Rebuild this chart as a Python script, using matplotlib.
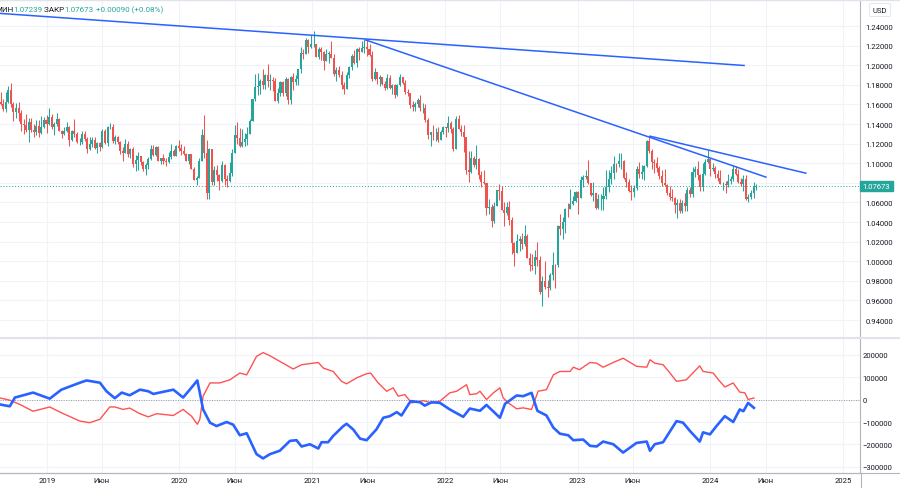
import matplotlib
matplotlib.use("Agg")
import matplotlib.pyplot as plt
import matplotlib.dates as mdates
import matplotlib.ticker as mticker
import pandas as pd
from matplotlib.lines import Line2D

plt.rcParams['font.family'] = ['Roboto', 'DejaVu Sans']

# weekly EUR/USD closes, first week starts Monday 2018-08-20
first_open = 1.1440
closes_2018 = [1.1622, 1.1601, 1.1552, 1.1625, 1.1749, 1.1604, 1.1524, 1.1560, 1.1511, 1.1402,
               1.1388, 1.1336, 1.1416, 1.1339, 1.1318, 1.1380, 1.1305, 1.1372, 1.1441]
closes_2019 = [1.1396, 1.1468, 1.1365, 1.1405, 1.1456, 1.1324, 1.1295, 1.1333, 1.1365, 1.1235,
               1.1327, 1.1302, 1.1217, 1.1217, 1.1300, 1.1246, 1.1149, 1.1198, 1.1235, 1.1157,
               1.1205, 1.1170, 1.1333, 1.1208, 1.1369, 1.1370, 1.1226, 1.1270, 1.1220, 1.1126,
               1.1108, 1.1200, 1.1091, 1.1143, 1.0990, 1.1029, 1.1073, 1.1017, 1.0940, 1.0980,
               1.1041, 1.1144, 1.1080, 1.1167, 1.1018, 1.1051, 1.1020, 1.1017, 1.1059, 1.1121,
               1.1079, 1.1176]
closes_2020 = [1.1158, 1.1120, 1.1091, 1.1025, 1.1093, 1.0945, 1.0831, 1.0846, 1.1026, 1.1284,
               1.1106, 1.0695, 1.1141, 1.0804, 1.0935, 1.0875, 1.0822, 1.0980, 1.0839, 1.0820,
               1.0902, 1.1100, 1.1290, 1.1255, 1.1177, 1.1220, 1.1247, 1.1300, 1.1428, 1.1656,
               1.1778, 1.1789, 1.1841, 1.1795, 1.1903, 1.1838, 1.1845, 1.1838, 1.1631, 1.1716,
               1.1825, 1.1718, 1.1860, 1.1647, 1.1875, 1.1833, 1.1856, 1.1962, 1.2122, 1.2110,
               1.2255, 1.2187]
closes_2021 = [1.2215, 1.2220, 1.2080, 1.2170, 1.2137, 1.2045, 1.2118, 1.2118, 1.2074, 1.1915,
               1.1955, 1.1904, 1.1795, 1.1762, 1.1900, 1.1985, 1.2095, 1.2020, 1.2164, 1.2140,
               1.2180, 1.2190, 1.2167, 1.2107, 1.1862, 1.1936, 1.1864, 1.1876, 1.1808, 1.1770,
               1.1870, 1.1763, 1.1795, 1.1697, 1.1795, 1.1880, 1.1814, 1.1725, 1.1720, 1.1595,
               1.1570, 1.1600, 1.1645, 1.1560, 1.1567, 1.1445, 1.1290, 1.1318, 1.1315, 1.1315,
               1.1240, 1.1320, 1.1370]
closes_2022 = [1.1360, 1.1414, 1.1345, 1.1145, 1.1450, 1.1350, 1.1320, 1.1270, 1.0930, 1.0910,
               1.1050, 1.0985, 1.1045, 1.0875, 1.0810, 1.0795, 1.0545, 1.0550, 1.0410, 1.0565,
               1.0730, 1.0720, 1.0520, 1.0495, 1.0555, 1.0425, 1.0185, 1.0080, 1.0210, 1.0225,
               1.0180, 1.0260, 1.0035, 0.9965, 0.9955, 1.0040, 1.0015, 0.9690, 0.9800, 0.9740,
               0.9725, 0.9860, 0.9965, 0.9960, 1.0355, 1.0325, 1.0400, 1.0535, 1.0530, 1.0585,
               1.0615, 1.0705]
closes_2023 = [1.0645, 1.0830, 1.0855, 1.0870, 1.0795, 1.0680, 1.0695, 1.0545, 1.0635, 1.0640,
               1.0670, 1.0760, 1.0840, 1.0905, 1.0995, 1.0990, 1.1020, 1.1020, 1.0850, 1.0805,
               1.0720, 1.0710, 1.0750, 1.0940, 1.0895, 1.0910, 1.0970, 1.1230, 1.1125, 1.1015,
               1.1005, 1.0950, 1.0870, 1.0795, 1.0775, 1.0700, 1.0660, 1.0650, 1.0575, 1.0590,
               1.0510, 1.0595, 1.0565, 1.0730, 1.0685, 1.0915, 1.0940, 1.0885, 1.0760, 1.0895,
               1.1015, 1.1040]
closes_2024 = [1.0940, 1.0950, 1.0895, 1.0850, 1.0785, 1.0785, 1.0775, 1.0820, 1.0840, 1.0940,
               1.0890, 1.0810, 1.0790, 1.0835, 1.0640, 1.0655, 1.0695, 1.0758, 1.07673]

# wick lengths above / below the body, in units of 0.001
hi_2018 = [0, 11, 5, 10, 4, 7, 2, 5, 6, 3, 5, 11, 5, 5, 6, 6, 6, 11, 3]
lo_2018 = [5, 1, 2, 3, 1, 3, 9, 6, 8, 7, 9, 2, 12, 2, 5, 3, 4, 1, 1]
hi_2019 = [5, 10, 3, 2, 6, 1, 2, 4, 6, 1, 1, 12, 2, 4, 3, 3, 2, 7, 3, 3, 1, 1, 2, 2, 1, 4,
           3, 2, 1, 1, 4, 5, 3, 1, 2, 6, 4, 0, 1, 2, 2, 4, 4, 1, 1, 0, 4, 3, 6, 8, 2, 1]
lo_2019 = [9, 1, 2, 8, 2, 0, 4, 1, 1, 6, 1, 3, 1, 3, 2, 2, 4, 1, 3, 1, 5, 5, 1, 1, 3, 2,
           2, 3, 2, 3, 8, 0, 3, 4, 3, 7, 10, 3, 2, 6, 4, 1, 1, 1, 0, 3, 3, 4, 1, 2, 1, 1]
hi_2020 = [6, 4, 6, 1, 0, 0, 2, 2, 3, 7, 21, 13, 1, 0, 4, 5, 2, 4, 1, 4, 11, 5, 10, 13, 10, 13,
           6, 7, 2, 0, 13, 13, 2, 12, 1, 11, 7, 4, 3, 5, 1, 1, 2, 1, 2, 5, 4, 0, 6, 4, 2, 1]
lo_2020 = [3, 4, 1, 0, 3, 0, 0, 5, 0, 0, 5, 6, 6, 3, 3, 6, 10, 1, 6, 6, 1, 3, 0, 6, 1, 1,
           4, 6, 0, 0, 2, 8, 8, 4, 4, 6, 9, 10, 0, 2, 3, 3, 3, 4, 4, 9, 3, 6, 4, 5, 0, 6]
hi_2021 = [9, 13, 0, 2, 2, 1, 5, 3, 13, 4, 3, 4, 4, 3, 3, 1, 2, 6, 1, 2, 7, 8, 7, 5, 4, 4, 0,
           2, 0, 3, 4, 3, 1, 1, 1, 3, 0, 4, 3, 0, 4, 2, 2, 5, 5, 4, 2, 0, 7, 4, 5, 2, 1]
lo_2021 = [1, 3, 0, 2, 8, 9, 0, 9, 0, 2, 8, 2, 4, 6, 0, 3, 3, 1, 4, 9, 0, 5, 7, 1, 2, 1, 6,
           8, 1, 2, 1, 1, 6, 3, 1, 1, 1, 2, 3, 3, 4, 4, 3, 3, 5, 2, 4, 11, 8, 9, 2, 0, 2]
hi_2022 = [0, 7, 2, 2, 3, 4, 4, 7, 0, 19, 8, 2, 14, 1, 5, 12, 0, 9, 3, 4, 0, 6, 5, 8, 5, 6,
           3, 1, 7, 3, 6, 11, 2, 5, 11, 7, 16, 4, 5, 20, 7, 2, 13, 1, 1, 13, 5, 1, 6, 15, 5, 1]
lo_2022 = [9, 4, 4, 2, 0, 0, 4, 16, 4, 10, 1, 2, 4, 4, 5, 1, 7, 6, 6, 2, 0, 9, 0, 14, 2, 6,
           11, 13, 0, 11, 5, 2, 0, 6, 4, 9, 6, 2, 15, 2, 9, 2, 5, 23, 2, 6, 10, 11, 8, 0, 1, 1]
hi_2023 = [1, 4, 3, 6, 16, 0, 11, 0, 5, 5, 9, 17, 9, 7, 8, 1, 8, 8, 1, 6, 3, 6, 3, 3, 7, 7,
           1, 1, 5, 2, 3, 6, 2, 6, 15, 1, 7, 8, 1, 5, 5, 3, 10, 3, 3, 5, 3, 8, 1, 11, 3, 10]
lo_2023 = [16, 0, 7, 2, 1, 1, 7, 1, 1, 11, 12, 3, 5, 5, 7, 8, 3, 8, 1, 5, 1, 8, 5, 2, 5, 6,
           8, 1, 2, 7, 10, 4, 3, 3, 1, 2, 3, 4, 8, 13, 2, 2, 5, 5, 3, 3, 6, 6, 4, 4, 2, 1]
hi_2024 = [1, 5, 2, 4, 8, 2, 3, 7, 3, 4, 3, 5, 4, 4, 5, 3, 3, 5, 2]
lo_2024 = [7, 2, 5, 3, 0, 6, 8, 2, 3, 2, 1, 1, 2, 7, 2, 4, 2, 5, 3]

last_price = 1.07673

# trend lines (start date, end date), (start price, end price)
trend_dates = [("2018-08-10", "2024-04-05"), ("2021-05-26", "2024-06-04"), ("2023-07-17", "2024-09-22")]
trend_prices = [(1.2533, 1.1997), (1.2260, 1.0856), (1.1278, 1.0897)]

# COT net positions (lower panel)
red_dates = ["2018-08-25", "2018-09-21", "2018-10-19", "2018-11-24", "2019-01-09", "2019-02-06",
             "2019-04-02", "2019-04-29", "2019-05-27", "2019-06-23", "2019-07-07", "2019-07-30",
             "2019-08-17", "2019-09-14", "2019-10-07", "2019-10-30", "2019-12-15", "2020-01-11",
             "2020-02-03", "2020-02-19", "2020-02-26", "2020-03-06", "2020-03-25", "2020-04-21",
             "2020-05-19", "2020-06-15", "2020-07-04", "2020-07-31", "2020-08-18", "2020-09-06",
             "2020-10-03", "2020-11-09", "2020-12-02", "2021-01-03", "2021-01-17", "2021-01-31",
             "2021-02-27", "2021-03-22", "2021-04-05", "2021-05-02", "2021-05-30", "2021-06-10",
             "2021-07-01", "2021-07-24", "2021-08-11", "2021-08-25", "2021-09-12", "2021-10-01",
             "2021-11-02", "2021-11-25", "2021-12-18", "2022-01-14", "2022-02-02", "2022-03-01",
             "2022-03-10", "2022-03-29", "2022-04-07", "2022-04-25", "2022-05-14", "2022-06-01",
             "2022-06-10", "2022-06-24", "2022-07-17", "2022-08-04", "2022-08-27", "2022-09-14",
             "2022-10-07", "2022-10-26", "2022-11-13", "2022-12-11", "2022-12-20", "2023-01-06",
             "2023-02-04", "2023-02-22", "2023-03-12", "2023-04-09", "2023-05-06", "2023-06-12",
             "2023-07-10", "2023-07-19", "2023-08-01", "2023-08-24", "2023-09-12", "2023-09-30",
             "2023-10-27", "2023-12-03", "2023-12-12", "2024-01-09", "2024-01-27", "2024-02-10",
             "2024-03-04", "2024-03-22", "2024-04-05", "2024-04-14", "2024-04-30"]
red_values = [7000, -3000, -22000, -52000, -33000, -56000, -96000, -103000, -88000, -33000,
              -33000, -44000, -38000, -63000, -77000, -63000, -71000, -44000, -74000, -110000,
              -88000, 15000, 74000, 74000, 88000, 118000, 110000, 192000, 209000, 195000,
              170000, 136000, 155000, 162000, 165000, 140000, 125000, 81000, 70000, 96000,
              115000, 118000, 74000, 37000, 52000, 15000, 22000, -15000, -5000, -15000,
              -7000, 30000, 37000, 66000, 22000, 26000, 37000, 0, 30000, 52000,
              7000, -15000, -41000, -37000, -44000, 37000, 44000, 110000, 125000, 125000,
              144000, 133000, 165000, 162000, 144000, 165000, 184000, 148000, 144000, 177000,
              162000, 155000, 118000, 81000, 88000, 150000, 125000, 118000, 81000, 56000,
              74000, 33000, 30000, 0, 7000]
blue_dates = ["2018-08-25", "2018-09-21", "2018-10-05", "2018-10-19", "2018-11-24", "2019-01-09",
              "2019-02-10", "2019-04-02", "2019-04-20", "2019-05-27", "2019-06-14", "2019-07-07",
              "2019-07-26", "2019-08-17", "2019-09-14", "2019-10-07", "2019-10-21", "2019-12-15",
              "2020-01-11", "2020-02-03", "2020-02-19", "2020-02-26", "2020-03-06", "2020-03-25",
              "2020-04-12", "2020-05-10", "2020-05-28", "2020-06-15", "2020-07-04", "2020-07-31",
              "2020-08-18", "2020-09-06", "2020-10-03", "2020-10-31", "2020-11-18", "2020-12-02",
              "2020-12-25", "2021-01-17", "2021-01-26", "2021-02-13", "2021-02-27", "2021-03-27",
              "2021-04-05", "2021-04-23", "2021-05-12", "2021-05-30", "2021-06-26", "2021-07-15",
              "2021-08-02", "2021-08-21", "2021-09-03", "2021-09-17", "2021-09-28", "2021-10-24",
              "2021-11-06", "2021-11-25", "2021-12-18", "2022-01-14", "2022-02-20", "2022-03-10",
              "2022-04-07", "2022-04-25", "2022-06-01", "2022-06-15", "2022-07-17", "2022-08-04",
              "2022-08-27", "2022-09-12", "2022-10-07", "2022-10-26", "2022-11-13", "2022-12-06",
              "2022-12-20", "2023-01-16", "2023-02-04", "2023-02-22", "2023-03-12", "2023-04-09",
              "2023-05-06", "2023-06-12", "2023-07-10", "2023-07-19", "2023-08-01", "2023-08-24",
              "2023-09-30", "2023-10-18", "2023-11-06", "2023-12-03", "2023-12-12", "2023-12-31",
              "2024-01-18", "2024-02-10", "2024-03-04", "2024-03-22", "2024-04-01", "2024-04-14",
              "2024-04-30"]
blue_values = [-22000, -30000, 9000, 15000, 31000, 4000, 44000, 75000, 85000, 75000,
               37000, 6000, 31000, 19000, 44000, 37000, 25000, 44000, 9000, 53000,
               85000, 30000, -44000, -103000, -118000, -100000, -112000, -159000, -150000, -243000,
               -262000, -243000, -228000, -184000, -181000, -209000, -199000, -218000, -190000, -190000,
               -162000, -118000, -108000, -133000, -174000, -181000, -133000, -81000, -74000, -56000,
               -71000, -35000, -7000, -12000, -27000, -12000, -15000, -44000, -77000, -40000,
               -50000, -24000, -81000, -19000, 18000, 15000, 30000, -50000, -71000, -125000,
               -152000, -159000, -181000, -178000, -206000, -209000, -187000, -199000, -236000, -193000,
               -187000, -228000, -199000, -190000, -96000, -103000, -140000, -187000, -146000, -155000,
               -118000, -74000, -100000, -44000, -52000, -15000, -37000]

x_ticks = ["2019-01-01", "2019-06-01", "2020-01-01", "2020-06-01", "2021-01-01", "2021-06-01",
           "2022-01-01", "2022-06-01", "2023-01-01", "2023-06-01", "2024-01-01", "2024-06-01",
           "2025-01-01"]
x_labels = ["2019", "Июн", "2020", "Июн", "2021", "Июн", "2022", "Июн", "2023", "Июн", "2024", "Июн", "2025"]

UP = "#26a69a"
DOWN = "#ef5350"
TXT = "#131722"
GRID = "#f0f3fa"

closes = closes_2018 + closes_2019 + closes_2020 + closes_2021 + closes_2022 + closes_2023 + closes_2024
wick_hi = hi_2018 + hi_2019 + hi_2020 + hi_2021 + hi_2022 + hi_2023 + hi_2024
wick_lo = lo_2018 + lo_2019 + lo_2020 + lo_2021 + lo_2022 + lo_2023 + lo_2024
weeks = pd.date_range("2018-08-20", periods=len(closes), freq="7D")
xs = mdates.date2num(weeks.to_pydatetime())
opens = [first_open] + closes[:-1]

W, H = 900, 489
fig = plt.figure(figsize=(9, 4.89), dpi=100)
ax = fig.add_axes([0, (H - 338) / H, 860 / W, 338 / H])
ax2 = fig.add_axes([0, (H - 474) / H, 860 / W, (474 - 339) / H])

x_left = mdates.date2num(pd.Timestamp("2018-08-25"))
x_right = mdates.date2num(pd.Timestamp("2025-02-16"))
tick_x = mdates.date2num(pd.to_datetime(x_ticks).to_pydatetime())

# candles
for x, o, c, h, l in zip(xs, opens, closes, wick_hi, wick_lo):
    col = UP if c >= o else DOWN
    top, bot = max(o, c), min(o, c)
    ax.vlines(x, bot - l * 0.001, top + h * 0.001, color=col, lw=0.75, zorder=3)
    ax.bar(x, max(top - bot, 0.0004), bottom=bot, width=5.6, color=col, lw=0, zorder=3)

# trend lines
for (d0, d1), (p0, p1) in zip(trend_dates, trend_prices):
    ax.plot(mdates.date2num(pd.to_datetime([d0, d1]).to_pydatetime()), [p0, p1],
            color="#2962ff", lw=1.1, zorder=4, solid_capstyle="butt")

ax.axhline(last_price, color=UP, lw=0.7, ls=(0, (1, 2)), zorder=2)

ax.set_xlim(x_left, x_right)
ax.set_ylim(0.9227, 1.2676)
ax.set_yticks([0.94 + 0.02 * i for i in range(16)])
ax.yaxis.set_major_formatter(mticker.FuncFormatter(lambda v, p: f"{v:.5f}"))
ax.yaxis.tick_right()
ax.set_xticks(tick_x)
ax.tick_params(axis="x", length=0, labelbottom=False)
ax.tick_params(axis="y", length=0, pad=4, labelsize=5.5, labelcolor=TXT)
ax.grid(True, color=GRID, lw=0.8, zorder=0)
ax.set_axisbelow(True)

# COT panel
ax2.plot(mdates.date2num(pd.to_datetime(red_dates).to_pydatetime()), red_values,
         color="#ff5252", lw=1.0, zorder=3)
ax2.plot(mdates.date2num(pd.to_datetime(blue_dates).to_pydatetime()), blue_values,
         color="#2962ff", lw=1.9, zorder=4)
ax2.axhline(0, color="#9598a1", lw=0.7, ls=(0, (1, 1.5)), zorder=2)
ax2.set_xlim(x_left, x_right)
ax2.set_ylim(-327000, 274000)
ax2.set_yticks([-300000, -200000, -100000, 0, 100000, 200000])
ax2.yaxis.set_major_formatter(mticker.FuncFormatter(lambda v, p: f"{v:.0f}".replace("-", "\u2212")))
ax2.yaxis.tick_right()
ax2.set_xticks(tick_x)
ax2.set_xticklabels(x_labels)
ax2.tick_params(axis="x", length=0, pad=3, labelsize=5.5, labelcolor=TXT)
ax2.tick_params(axis="y", length=0, pad=2, labelsize=5.5, labelcolor=TXT)
ax2.grid(True, color=GRID, lw=0.8, zorder=0)
ax2.set_axisbelow(True)

for a in (ax, ax2):
    for s in ("top", "left"):
        a.spines[s].set_visible(False)
    a.spines["right"].set_color("#b2b5be")
    a.spines["right"].set_linewidth(0.8)
ax.spines["bottom"].set_visible(False)
ax2.spines["bottom"].set_color("#b2b5be")
ax2.spines["bottom"].set_linewidth(0.8)

# panel separator and frame lines
fig.add_artist(Line2D([0, 1], [1 - 338.5 / H, 1 - 338.5 / H], color="#e0e3eb", lw=1.5))
fig.add_artist(Line2D([860.5 / W, 860.5 / W], [0, 1 - 474 / H], color="#b2b5be", lw=0.8))
fig.add_artist(Line2D([0, 1], [1 - 474 / H, 1 - 474 / H], color="#b2b5be", lw=0.8))
fig.add_artist(Line2D([0, 1], [1 - 1 / H, 1 - 1 / H], color="#e0e3eb", lw=1.0))

# last price tag
ax.annotate(f"{last_price:.5f}", xy=(1.0, last_price), xycoords=("axes fraction", "data"),
            xytext=(2.0, 0), textcoords="offset points", ha="left", va="center",
            fontsize=5.5, color="white", zorder=10, annotation_clip=False,
            bbox=dict(boxstyle="square,pad=0.3", fc=UP, ec=UP))

# currency box
fig.text(880 / W, 1 - 11 / H, "USD", ha="center", va="center", fontsize=5.5, color=TXT,
         bbox=dict(boxstyle="round,pad=0.45,rounding_size=0.2", fc="white", ec="#e0e3eb", lw=0.6))

# header values
parts = [("МИН", TXT), ("1.07239", UP), (" ЗАКР", TXT), ("1.07673", UP), (" +0.00090 (+0.08%)", UP)]
t = fig.text(-5 / W, 1 - 10 / H, parts[0][0], color=parts[0][1], fontsize=5.8, va="center", ha="left")
for s, col in parts[1:]:
    t = ax.annotate(s, xy=(1, 0.5), xycoords=t, va="center", ha="left", fontsize=5.8,
                    color=col, annotation_clip=False)

fig.savefig("out.png", dpi=100, facecolor="white")
